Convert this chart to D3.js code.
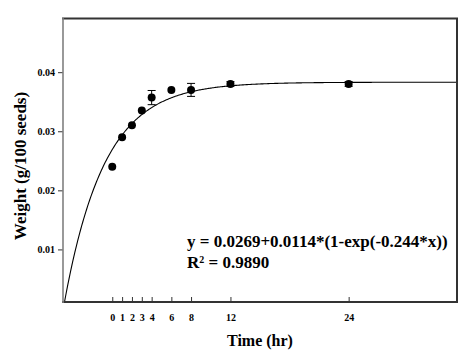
<!DOCTYPE html>
<html>
<head>
<meta charset="utf-8">
<script src="https://cdn.jsdelivr.net/npm/d3@7/dist/d3.min.js"></script>
<style>
body{margin:0;background:#fff;}
svg{display:block;}
text{font-family:"Liberation Serif","Times New Roman",serif;font-weight:bold;fill:#000;}
</style>
</head>
<body>
<script>
const timeHr = [0, 1, 2, 3, 4, 6, 8, 12, 24];
const weight = [0.0240, 0.0290, 0.0310, 0.0335, 0.0357, 0.0370, 0.0370, 0.0380, 0.0380];
const errorBar = [0, 0, 0, 0, 0.0012, 0, 0.0011, 0.0004, 0.0004];
const xTicks = [0, 1, 2, 3, 4, 6, 8, 12, 24];
const yTicks = [0.01, 0.02, 0.03, 0.04];
const fitA = 0.0269, fitB = 0.0114, fitK = 0.244;

const W = 470, H = 360;
const L = 63, R = 457, T = 19, B = 302;
const svg = d3.select("body").append("svg").attr("width", W).attr("height", H);

const x = d3.scaleLinear().domain([-5, 35]).range([L, R]);
const y = d3.scaleLinear().domain([0.0011, 0.049]).range([B, T]);

svg.append("defs").append("clipPath").attr("id", "clip")
  .append("rect").attr("x", L).attr("y", T).attr("width", R - L).attr("height", B - T);

// fitted curve
const curveX = d3.range(-5, 35.01, 0.1);
const line = d3.line().x(d => x(d)).y(d => y(fitA + fitB * (1 - Math.exp(-fitK * d))));
svg.append("path").datum(curveX).attr("d", line)
  .attr("fill", "none").attr("stroke", "#000").attr("stroke-width", 1.1)
  .attr("clip-path", "url(#clip)");

// y axis
const yAxis = svg.append("g").attr("transform", `translate(${L},0)`)
  .call(d3.axisLeft(y).tickValues(yTicks).tickSize(5).tickPadding(3).tickFormat(d3.format(".2f")));
yAxis.select(".domain").remove();
yAxis.selectAll(".tick line").attr("stroke", "#333");
yAxis.selectAll("text").attr("font-size", 10).style("font-family", "Liberation Serif").style("font-weight", "bold");

// x axis ticks inside
const xAxis = svg.append("g").attr("transform", `translate(0,${B})`)
  .call(d3.axisBottom(x).tickValues(xTicks).tickSizeInner(-5).tickSizeOuter(0).tickPadding(12).tickFormat(d3.format("d")));
xAxis.select(".domain").remove();
xAxis.selectAll(".tick line").attr("stroke", "#333");
xAxis.selectAll("text").attr("font-size", 10).style("font-family", "Liberation Serif").style("font-weight", "bold");

// frame
svg.append("line").attr("x1", L - 1).attr("x2", R + 1).attr("y1", T - 0.5).attr("y2", T - 0.5).attr("stroke", "#333").attr("stroke-width", 2);
svg.append("line").attr("x1", R).attr("x2", R).attr("y1", T - 1).attr("y2", B + 1).attr("stroke", "#333").attr("stroke-width", 2);
svg.append("line").attr("x1", L - 1).attr("x2", R + 1).attr("y1", B).attr("y2", B).attr("stroke", "#333").attr("stroke-width", 2);
svg.append("line").attr("x1", L).attr("x2", L).attr("y1", T - 1).attr("y2", B + 1).attr("stroke", "#808080").attr("stroke-width", 1.6);

// error bars
const pts = timeHr.map((t, i) => ({t, w: weight[i], e: errorBar[i]}));
const eb = svg.append("g").selectAll("g").data(pts.filter(d => d.e > 0)).join("g");
eb.append("line").attr("x1", d => x(d.t)).attr("x2", d => x(d.t))
  .attr("y1", d => y(d.w - d.e)).attr("y2", d => y(d.w + d.e)).attr("stroke", "#000").attr("stroke-width", 1);
[1, -1].forEach(s => {
  eb.append("line").attr("x1", d => x(d.t) - 4).attr("x2", d => x(d.t) + 4)
    .attr("y1", d => y(d.w + s * d.e)).attr("y2", d => y(d.w + s * d.e)).attr("stroke", "#000").attr("stroke-width", 1);
});

// points
svg.append("g").selectAll("circle").data(pts).join("circle")
  .attr("cx", d => x(d.t)).attr("cy", d => y(d.w)).attr("r", 4).attr("fill", "#000");

// equation
const eq = svg.append("text").attr("x", 187).attr("y", 247).attr("font-size", 17);
eq.text("y = 0.0269+0.0114*(1-exp(-0.244*x))");
const r2 = svg.append("text").attr("x", 187).attr("y", 268).attr("font-size", 17);
r2.append("tspan").text("R");
r2.append("tspan").attr("font-size", 10).attr("dy", -5).text("2");
r2.append("tspan").attr("dy", 5).text(" = 0.9890");

// axis titles
svg.append("text").attr("x", (L + R) / 2).attr("y", 346).attr("text-anchor", "middle").attr("font-size", 16).text("Time (hr)");
svg.append("text").attr("transform", `translate(26,166) rotate(-90)`).attr("text-anchor", "middle").attr("font-size", 17).text("Weight (g/100 seeds)");
</script>
</body>
</html>
